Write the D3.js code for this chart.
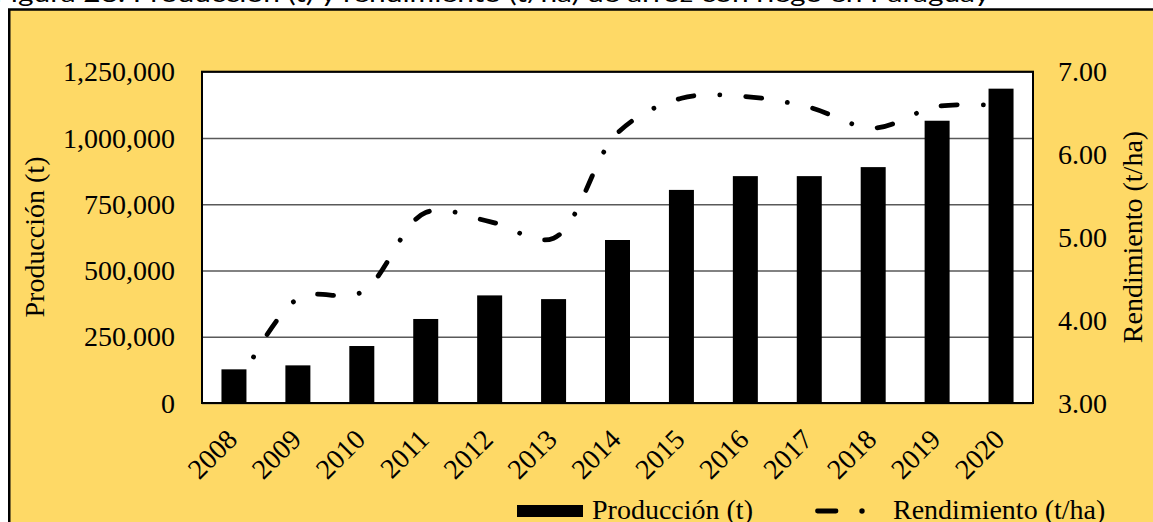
<!DOCTYPE html>
<html><head><meta charset="utf-8">
<script src="https://cdn.jsdelivr.net/npm/d3@7"></script>
<style>body{margin:0;background:#fff}svg{display:block}</style>
</head><body>
<svg id="c" width="1153" height="522"></svg>
<script>
const years = ["2008","2009","2010","2011","2012","2013","2014","2015","2016","2017","2018","2019","2020"];
const produccion = [127000,142000,215000,317000,406000,392000,615000,804000,856000,856000,890000,1065000,1186000];
const rendimiento = [3.11,4.26,4.34,5.30,5.19,4.99,6.26,6.68,6.70,6.57,6.32,6.58,6.59];
const leftTicks = [0,250000,500000,750000,1000000,1250000];
const rightTicks = [3,4,5,6,7];
const titleText = "Figura 28. Producción (t) y rendimiento (t/ha) de arroz con riego en Paraguay";
const leftTitle = "Producción (t)";
const rightTitle = "Rendimiento (t/ha)";

const svg = d3.select("#c");
const serif = "'Liberation Serif','Times New Roman',serif";
const P = {left:202, right:1033, top:71.7, bottom:403};

// clipped title at the very top
svg.append("text").attr("x",-6).attr("y",1.5)
  .attr("font-family","Lato,'Open Sans',sans-serif").attr("font-size",23)
  .attr("textLength",996).attr("lengthAdjust","spacingAndGlyphs")
  .attr("fill","#000").text(titleText);

// outer frame
svg.append("rect").attr("x",9.25).attr("y",9.5).attr("width",1400).attr("height",800)
  .attr("fill","#FED966").attr("stroke","#000").attr("stroke-width",2.5);

const x = d3.scaleBand().domain(years).range([P.left,P.right]).paddingInner(0.609).paddingOuter(0.3045);
const y = d3.scaleLinear().domain([0,1250000]).range([P.bottom,P.top]);
const y2 = d3.scaleLinear().domain([3,7]).range([P.bottom,P.top]);

svg.append("rect").attr("x",P.left).attr("y",P.top).attr("width",P.right-P.left).attr("height",P.bottom-P.top).attr("fill","#fff");

// left axis with gridlines
const gl = svg.append("g").attr("transform",`translate(${P.left},0)`)
  .call(d3.axisLeft(y).tickValues(leftTicks).tickSize(-(P.right-P.left)).tickPadding(27).tickFormat(d3.format(",")));
gl.select(".domain").remove();
gl.selectAll("line").attr("stroke","#595959").attr("stroke-width",1.5);
gl.selectAll("text").attr("font-family",serif).attr("font-size",28).attr("fill","#000").attr("dy","0.33em");

// right axis
const gr = svg.append("g").attr("transform",`translate(${P.right},0)`)
  .call(d3.axisRight(y2).tickValues(rightTicks).tickSize(0).tickPadding(25).tickFormat(d3.format(".2f")));
gr.select(".domain").remove();
gr.selectAll("text").attr("font-family",serif).attr("font-size",28).attr("fill","#000").attr("dy","0.33em");

// bars
svg.append("g").selectAll("rect").data(years).join("rect")
  .attr("x",d=>x(d)).attr("width",x.bandwidth())
  .attr("y",(d,i)=>y(produccion[i])).attr("height",(d,i)=>y(0)-y(produccion[i]))
  .attr("fill","#000");

// plot border
svg.append("rect").attr("x",P.left).attr("y",P.top).attr("width",P.right-P.left).attr("height",P.bottom-P.top)
  .attr("fill","none").attr("stroke","#000").attr("stroke-width",2);

// x labels
svg.append("g").selectAll("text").data(years).join("text")
  .attr("transform",d=>`translate(${x(d)+x.bandwidth()/2+5},441) rotate(-45)`)
  .attr("text-anchor","end").attr("font-family",serif).attr("font-size",28).attr("fill","#000")
  .text(d=>d);

// line
const line = d3.line().x((d,i)=>x(years[i])+x.bandwidth()/2).y(d=>y2(d)).curve(d3.curveCatmullRom.alpha(0.5));
svg.append("path").datum(rendimiento).attr("d",line)
  .attr("fill","none").attr("stroke","#000").attr("stroke-width",4.8)
  .attr("stroke-linecap","round").attr("stroke-dasharray","16 26 0.01 26");

// axis titles
svg.append("text").attr("transform",`translate(44,237) rotate(-90)`).attr("text-anchor","middle")
  .attr("font-family",serif).attr("font-size",28).attr("fill","#000").text(leftTitle);
svg.append("text").attr("transform",`translate(1142,237) rotate(-90)`).attr("text-anchor","middle")
  .attr("font-family",serif).attr("font-size",28).attr("fill","#000").text(rightTitle);

// legend
const lg = svg.append("g");
lg.append("rect").attr("x",517).attr("y",505).attr("width",66).attr("height",12).attr("fill","#000");
lg.append("text").attr("x",592).attr("y",519).attr("font-family",serif).attr("font-size",28).attr("fill","#000").text(leftTitle);
lg.append("line").attr("x1",817.5).attr("x2",836).attr("y1",511).attr("y2",511)
  .attr("stroke","#000").attr("stroke-width",4.8).attr("stroke-linecap","round");
lg.append("circle").attr("cx",862).attr("cy",511).attr("r",2.7).attr("fill","#000");
lg.append("text").attr("x",893).attr("y",519).attr("font-family",serif).attr("font-size",28).attr("fill","#000").text(rightTitle);
</script>
</body></html>
